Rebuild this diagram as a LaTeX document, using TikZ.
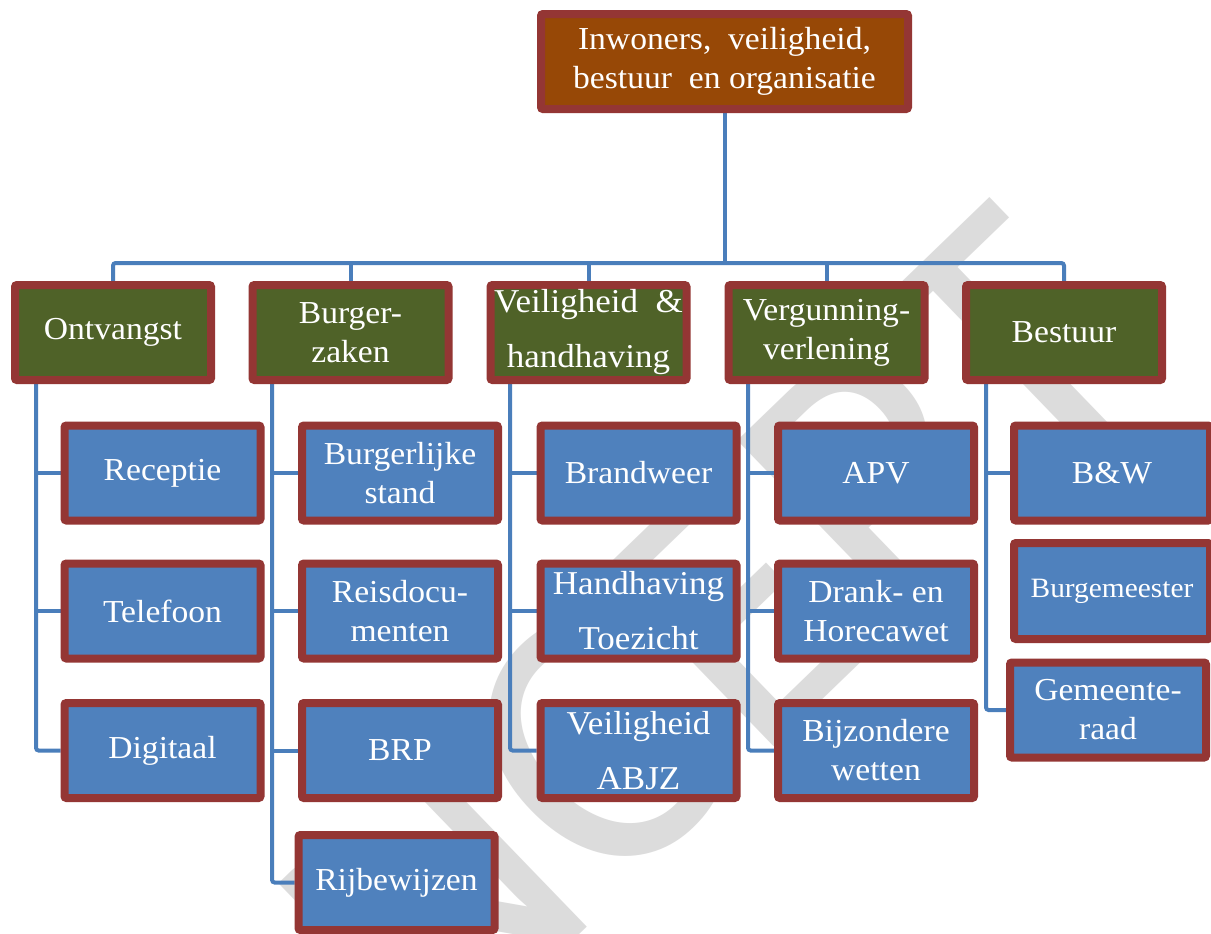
\documentclass[tikz,border=0pt]{standalone}
\usepackage{fontspec}
\setmainfont{Liberation Serif}[FakeStretch=1.05]
\newfontfamily\wmfont{Carlito}
\usetikzlibrary{shadows}
\definecolor{bordercol}{HTML}{943634}
\definecolor{topfill}{HTML}{974806}
\definecolor{greenfill}{HTML}{4F6228}
\definecolor{bluefill}{HTML}{4F81BD}
\definecolor{linecol}{HTML}{4A7EBB}
\definecolor{wmcol}{HTML}{DCDCDC}
\pgfdeclarelayer{wmlayer}
\pgfdeclarelayer{bglayer}
\pgfsetlayers{wmlayer,bglayer,main}
\tikzset{
  box/.style={draw=bordercol, line width=6pt, rounded corners=1.5pt, inner sep=0pt,
    align=center, text=white, minimum width=147pt, minimum height=71.25pt,
    font=\fontsize{24}{29.25}\selectfont,
    drop shadow={shadow xshift=1.2pt, shadow yshift=-2pt, opacity=0.25, fill=black}},
  topbox/.style={box, fill=topfill, minimum width=275.25pt},
  grpbox/.style={box, fill=greenfill},
  itembox/.style={box, fill=bluefill},
  tall/.style={font=\fontsize{25}{41.25}\selectfont},
  conn/.style={draw=linecol, line width=3pt, rounded corners=2pt},
  wmark/.style={text=wmcol, font=\wmfont\fontsize{287}{300}\selectfont, inner sep=0pt}
}
\begin{document}
\begin{tikzpicture}[x=0.75pt,y=-0.75pt]
\useasboundingbox (0,0) rectangle (1211,933);
\clip (0,0) rectangle (1211,933);

% top
\node[topbox] (top) at (724.5,61.5) {Inwoners,\ \ veiligheid,\\bestuur\ \ en organisatie};

% groups
\node[grpbox] (ont) at (113,332.5) {Ontvangst};
\node[grpbox] (bz) at (350.5,332.5) {Burger-\\zaken};
\node[grpbox, tall] (vh) at (588.5,332.5) {Veiligheid\ \ \&\\handhaving};
\node[grpbox] (vv) at (826.5,332.5) {Vergunning-\\verlening};
\node[grpbox] (be) at (1064,332.5) {Bestuur};

% Ontvangst items
\node[itembox] (rec) at (162.5,473) {Receptie};
\node[itembox] (tel) at (162.5,611) {Telefoon};
\node[itembox] (dig) at (162.5,750.5) {Digitaal};

% Burgerzaken items
\node[itembox] (bs) at (400,473) {Burgerlijke\\stand};
\node[itembox] (rd) at (400,611) {Reisdocu-\\menten};
\node[itembox] (brp) at (400,750.5) {BRP};
\node[itembox] (rb) at (396.5,882.5) {Rijbewijzen};

% Veiligheid items
\node[itembox] (bw) at (638.5,473) {Brandweer};
\node[itembox, tall] (ht) at (638.5,611) {Handhaving\\Toezicht};
\node[itembox, tall] (va) at (638.5,750.5) {Veiligheid\\ABJZ};

% Vergunning items
\node[itembox] (apv) at (876,473) {APV};
\node[itembox] (dh) at (876,611) {Drank- en\\Horecawet};
\node[itembox] (bij) at (876,750.5) {Bijzondere\\wetten};

% Bestuur items
\node[itembox] (bnw) at (1112,473) {B\&W};
\node[itembox, minimum height=72pt, font=\fontsize{21}{26}\selectfont] (bgm) at (1112,591) {Burgemeester};
\node[itembox] (gr) at (1108,710) {Gemeente-\\raad};

% connectors
\begin{pgfonlayer}{bglayer}
\coordinate (bus) at (724.5,263);
\coordinate (ontv) at (36,380);
\coordinate (bzv) at (272,380);
\coordinate (vhv) at (510,380);
\coordinate (vvv) at (748,380);
\coordinate (bev) at (986,380);
\draw[conn] (top.south) -- (bus);
\draw[conn] (ont.north) |- (bus) -| (be.north);
\draw[conn] (bz.north) -- (bz.north |- bus);
\draw[conn] (vh.north) -- (vh.north |- bus);
\draw[conn] (vv.north) -- (vv.north |- bus);
\draw[conn] (ontv) |- (dig.west);
\draw[conn] (rec.west -| ontv) -- (rec.west);
\draw[conn] (tel.west -| ontv) -- (tel.west);
\draw[conn] (bzv) |- (rb.west);
\draw[conn] (bs.west -| bzv) -- (bs.west);
\draw[conn] (rd.west -| bzv) -- (rd.west);
\draw[conn] (brp.west -| bzv) -- (brp.west);
\draw[conn] (vhv) |- (va.west);
\draw[conn] (bw.west -| vhv) -- (bw.west);
\draw[conn] (ht.west -| vhv) -- (ht.west);
\draw[conn] (vvv) |- (bij.west);
\draw[conn] (apv.west -| vvv) -- (apv.west);
\draw[conn] (dh.west -| vvv) -- (dh.west);
\draw[conn] (bev) |- (gr.west);
\draw[conn] (bnw.west -| bev) -- (bnw.west);
\end{pgfonlayer}

% background and watermark
\begin{pgfonlayer}{wmlayer}
\fill[white] (0,0) rectangle (1211,933);
\begin{scope}
\clip (0,0) rectangle (1211,933);
\node[wmark, anchor=base west, rotate=44] (wm) at (103,1395) {CONCEPT};
\end{scope}
\end{pgfonlayer}
\end{tikzpicture}
\end{document}
